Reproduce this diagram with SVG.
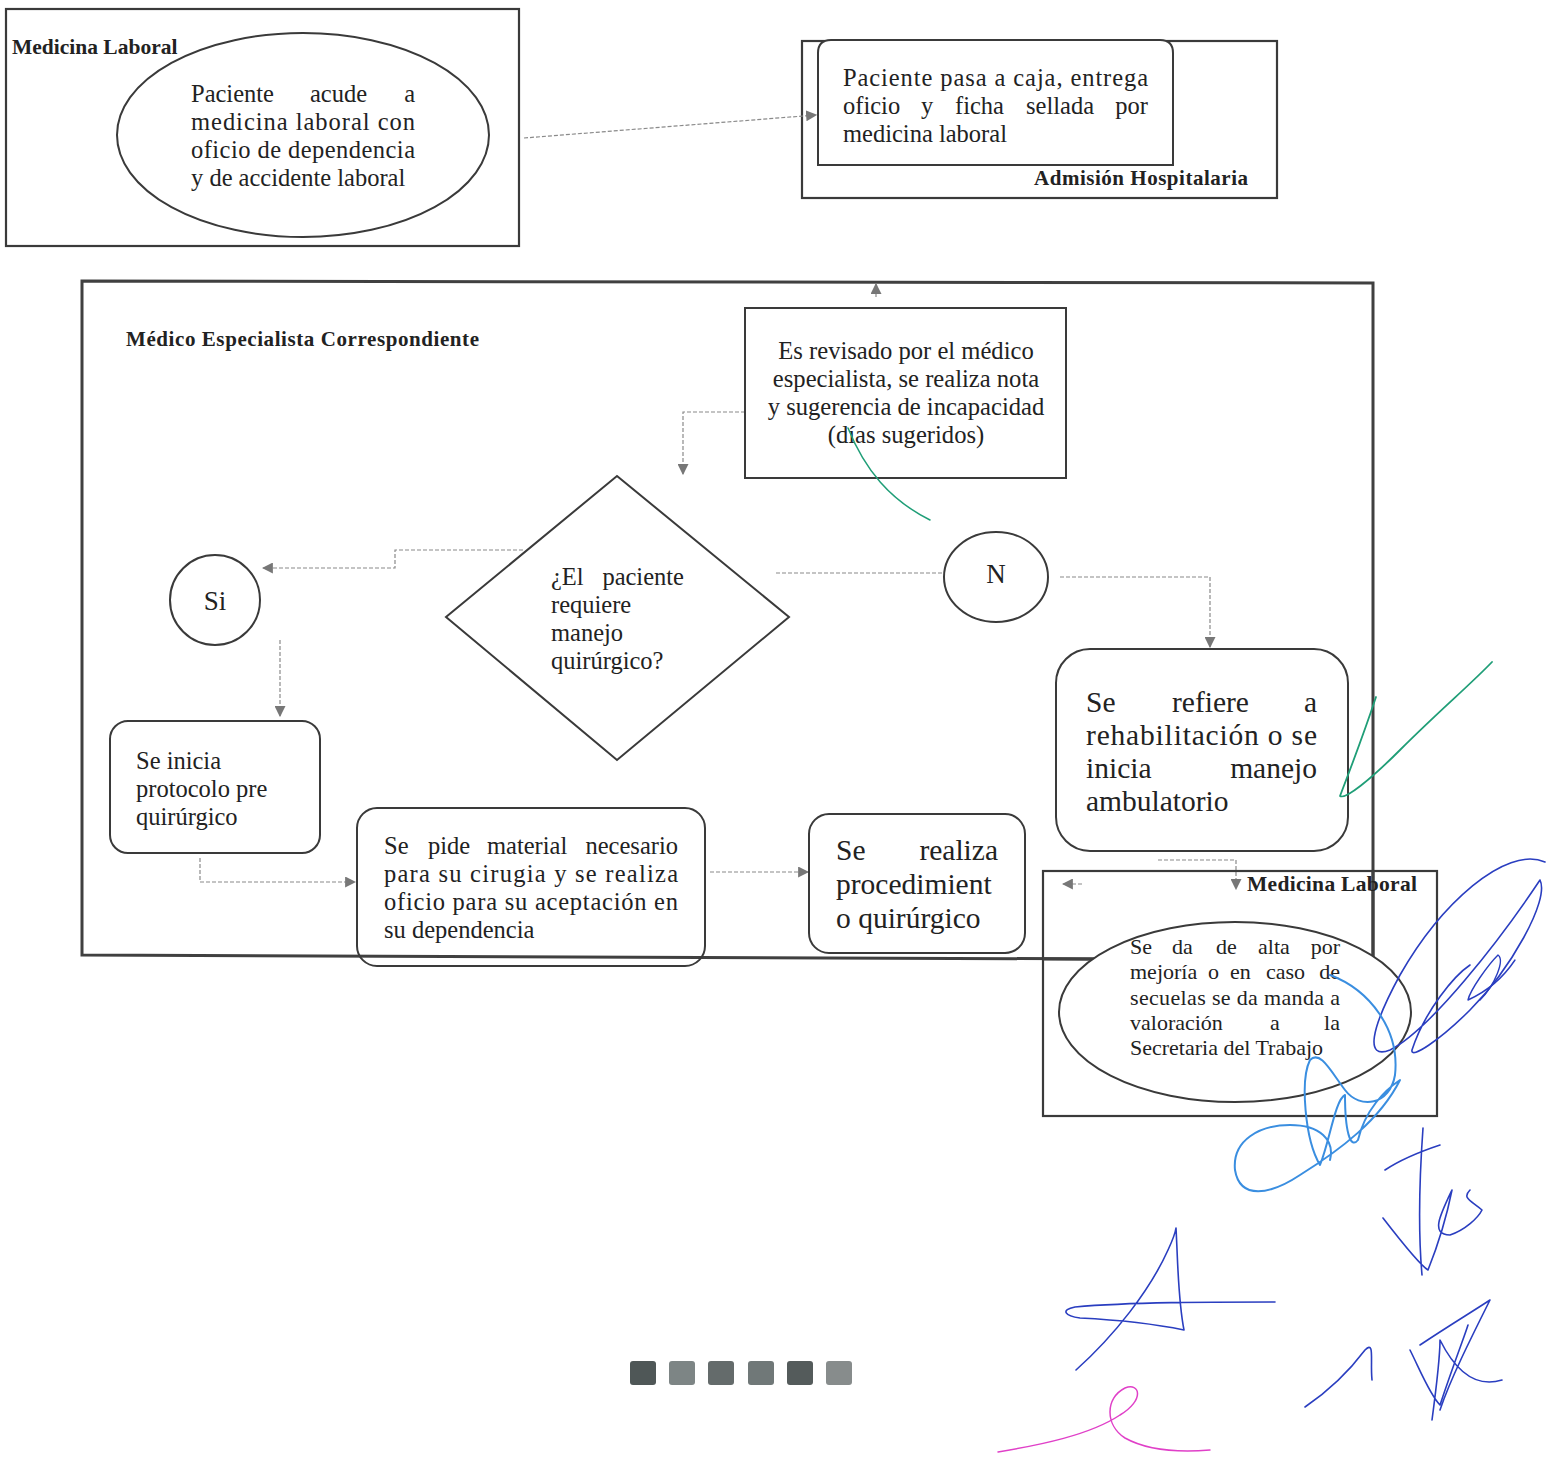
<svg xmlns="http://www.w3.org/2000/svg" width="1549" height="1465" viewBox="0 0 1549 1465">
<style>
text{font-family:"Liberation Serif","Times New Roman",serif;fill:#222}
.b{font-weight:bold}
.box{fill:none;stroke:#3a3a3a;stroke-width:2.2}
.nd{fill:#fff;stroke:#3a3a3a;stroke-width:2}
.con{fill:none;stroke:#8a8a8a;stroke-width:1.2;stroke-dasharray:4 2}
.sig{fill:none;stroke-linecap:round;stroke-linejoin:round}
</style>
<defs>
<marker id="ah" viewBox="0 0 10 10" refX="9" refY="5" markerWidth="11" markerHeight="11" markerUnits="userSpaceOnUse" orient="auto">
<path d="M0,0 L10,5 L0,10 Z" fill="#777"/>
</marker>
</defs>
<rect width="1549" height="1465" fill="#fff"/>

<!-- swimlane containers -->
<g id="lane-medicina-laboral-1">
<rect class="box" x="6" y="9" width="513" height="237"/>
<text class="b" x="12" y="54" font-size="21.5">Medicina Laboral</text>
</g>
<g id="lane-admision">
<rect class="box" x="802" y="41" width="475" height="157"/>
<text class="b" x="1034" y="185" font-size="21" textLength="214" lengthAdjust="spacing">Admisión Hospitalaria</text>
</g>
<g id="lane-especialista">
<polygon points="82,281 1373,283 1373,960 82,955" fill="none" stroke="#404040" stroke-width="3"/>
<text class="b" x="126" y="346" font-size="21" textLength="353" lengthAdjust="spacing">Médico Especialista Correspondiente</text>
</g>

<!-- connectors -->
<g id="connectors">
<path class="con" d="M524,138 L816,115" marker-end="url(#ah)"/>
<path class="con" d="M876,297 L876,284" marker-end="url(#ah)"/>
<path class="con" d="M745,412 L683,412 L683,474" marker-end="url(#ah)"/>
<path class="con" d="M523,550 L395,550 L395,568 L263,568" marker-end="url(#ah)"/>
<path class="con" d="M280,640 L280,716" marker-end="url(#ah)"/>
<path class="con" d="M200,858 L200,882 L355,882" marker-end="url(#ah)"/>
<path class="con" d="M710,872 L808,872" marker-end="url(#ah)"/>
<path class="con" d="M776,573 L976,573" marker-end="url(#ah)"/>
<path class="con" d="M1060,577 L1210,577 L1210,647" marker-end="url(#ah)"/>
<path class="con" d="M1158,860 L1236,860 L1236,889" marker-end="url(#ah)"/>
<path class="con" d="M1082,884 L1063,884" marker-end="url(#ah)"/>
</g>

<g id="n-paciente-acude">
<ellipse class="nd" cx="303" cy="135" rx="186" ry="102"/>
<text y="102" font-size="24.5"><tspan x="191">Paciente</tspan><tspan x="310">acude</tspan><tspan x="415" text-anchor="end">a</tspan></text>
<text x="191" y="130" font-size="24.5" textLength="224" lengthAdjust="spacing">medicina laboral con</text>
<text x="191" y="158" font-size="24.5" textLength="224" lengthAdjust="spacing">oficio de dependencia</text>
<text x="191" y="186" font-size="24.5">y de accidente laboral</text>
</g>

<g id="n-caja">
<path class="nd" d="M818,165 L818,53 Q818,40 831,40 L1160,40 Q1173,40 1173,53 L1173,165 Z"/>
<text x="843" y="86" font-size="24.5" textLength="305" lengthAdjust="spacing">Paciente pasa a caja, entrega</text>
<text y="114" font-size="24.5"><tspan x="843">oficio</tspan><tspan x="921">y</tspan><tspan x="955">ficha</tspan><tspan x="1026">sellada</tspan><tspan x="1148" text-anchor="end">por</tspan></text>
<text x="843" y="142" font-size="24.5">medicina laboral</text>
</g>

<g id="n-revisado">
<rect class="nd" x="745" y="308" width="321" height="170"/>
<text x="906" y="359" font-size="24.6" text-anchor="middle">Es revisado por el médico</text>
<text x="906" y="387" font-size="24.6" text-anchor="middle">especialista, se realiza nota</text>
<text x="906" y="415" font-size="24.6" text-anchor="middle">y sugerencia de incapacidad</text>
<text x="906" y="443" font-size="24.6" text-anchor="middle">(días sugeridos)</text>
</g>

<g id="n-decision">
<polygon class="nd" points="617,476 789,617 617,760 446,617"/>
<text y="585" font-size="24.5"><tspan x="551">¿El</tspan><tspan x="684" text-anchor="end">paciente</tspan></text>
<text x="551" y="613" font-size="24.5">requiere</text>
<text x="551" y="641" font-size="24.5">manejo</text>
<text x="551" y="669" font-size="24.5">quirúrgico?</text>
</g>

<g id="n-si">
<circle class="nd" cx="215" cy="600" r="45"/>
<text x="215" y="610" font-size="27" text-anchor="middle">Si</text>
</g>

<g id="n-no">
<ellipse class="nd" cx="996" cy="577" rx="52" ry="45"/>
<text x="996" y="583" font-size="27" text-anchor="middle">N</text>
</g>

<g id="n-protocolo">
<rect class="nd" x="110" y="721" width="210" height="132" rx="18"/>
<text x="136" y="769" font-size="24.5">Se inicia</text>
<text x="136" y="797" font-size="24.5">protocolo pre</text>
<text x="136" y="825" font-size="24.5">quirúrgico</text>
</g>

<g id="n-material">
<rect class="nd" x="357" y="808" width="348" height="158" rx="20" style="fill:none"/>
<text y="854" font-size="24.5"><tspan x="384">Se</tspan><tspan x="428">pide</tspan><tspan x="487">material</tspan><tspan x="678" text-anchor="end">necesario</tspan></text>
<text x="384" y="882" font-size="24.5" textLength="294" lengthAdjust="spacing">para su cirugia y se realiza</text>
<text x="384" y="910" font-size="24.5" textLength="294" lengthAdjust="spacing">oficio para su aceptación en</text>
<text x="384" y="938" font-size="24.5">su dependencia</text>
</g>

<g id="n-procedimiento">
<rect class="nd" x="809" y="814" width="216" height="139" rx="20"/>
<text y="860" font-size="29.5"><tspan x="836">Se</tspan><tspan x="998" text-anchor="end">realiza</tspan></text>
<text x="836" y="894" font-size="29.5">procedimient</text>
<text x="836" y="928" font-size="29.5">o quirúrgico</text>
</g>

<g id="n-rehabilitacion">
<rect class="nd" x="1056" y="649" width="292" height="202" rx="34"/>
<text y="712" font-size="29.5"><tspan x="1086">Se</tspan><tspan x="1172">refiere</tspan><tspan x="1317" text-anchor="end">a</tspan></text>
<text x="1086" y="745" font-size="29.5" textLength="231" lengthAdjust="spacing">rehabilitación o se</text>
<text y="778" font-size="29.5"><tspan x="1086">inicia</tspan><tspan x="1317" text-anchor="end">manejo</tspan></text>
<text x="1086" y="811" font-size="29.5">ambulatorio</text>
</g>

<g id="lane-medicina-laboral-2">
<rect class="box" x="1043" y="871" width="394" height="245"/>
<line x1="1373" y1="871" x2="1373" y2="960" stroke="#404040" stroke-width="3"/>
<line x1="1043" y1="959" x2="1373" y2="960" stroke="#404040" stroke-width="3"/>
<text class="b" x="1247" y="891" font-size="21.5" textLength="170" lengthAdjust="spacing">Medicina Laboral</text>
</g>

<g id="n-alta">
<ellipse class="nd" cx="1235" cy="1012" rx="176" ry="90"/>
<text y="954" font-size="22"><tspan x="1130">Se</tspan><tspan x="1172">da</tspan><tspan x="1216">de</tspan><tspan x="1258">alta</tspan><tspan x="1340" text-anchor="end">por</tspan></text>
<text y="979" font-size="22"><tspan x="1130">mejoría</tspan><tspan x="1208">o</tspan><tspan x="1230">en</tspan><tspan x="1266">caso</tspan><tspan x="1340" text-anchor="end">de</tspan></text>
<text x="1130" y="1005" font-size="22" textLength="210" lengthAdjust="spacing">secuelas se da manda a</text>
<text y="1030" font-size="22"><tspan x="1130">valoración</tspan><tspan x="1270">a</tspan><tspan x="1340" text-anchor="end">la</tspan></text>
<text x="1130" y="1055" font-size="22">Secretaria del Trabajo</text>
</g>

<g id="page-marks">
<rect x="630" y="1361" width="26" height="24" rx="3" fill="#4f5757"/>
<rect x="669" y="1361" width="26" height="24" rx="3" fill="#7d8585"/>
<rect x="708" y="1361" width="26" height="24" rx="3" fill="#646b6b"/>
<rect x="748" y="1361" width="26" height="24" rx="3" fill="#707878"/>
<rect x="787" y="1361" width="26" height="24" rx="3" fill="#545b5b"/>
<rect x="826" y="1361" width="26" height="24" rx="3" fill="#878c8c"/>
</g>

<g id="signatures">
<path class="sig" stroke="#1f9e77" stroke-width="1.5" d="M848,428 C865,470 890,500 930,520"/>
<path class="sig" stroke="#1f9e77" stroke-width="1.8" d="M1376,697 C1365,730 1350,770 1340,796 C1345,800 1370,780 1400,750 C1440,710 1470,685 1492,662"/>
<path class="sig" stroke="#2a3ec0" stroke-width="1.6" d="M1545,862 C1505,845 1440,905 1400,975 C1370,1030 1365,1060 1390,1050 C1430,1030 1500,940 1540,880 C1550,900 1510,970 1470,1010 C1440,1040 1410,1060 1412,1050 C1425,1010 1455,975 1470,965"/>
<path class="sig" stroke="#2a3ec0" stroke-width="1.4" d="M1480,1000 C1495,985 1505,960 1498,955 C1488,965 1470,990 1468,1000 C1490,990 1505,975 1515,960"/>
<path class="sig" stroke="#3a8ee0" stroke-width="2" d="M1330,975 C1370,990 1400,1030 1395,1075 C1390,1105 1360,1110 1345,1090 C1330,1070 1320,1050 1310,1060 C1300,1080 1305,1140 1320,1165 C1330,1140 1335,1100 1345,1095 C1345,1130 1350,1150 1358,1140 C1365,1110 1385,1090 1400,1080 C1380,1120 1340,1150 1300,1175 C1270,1195 1240,1200 1235,1170 C1232,1140 1260,1125 1290,1125 C1320,1125 1335,1140 1330,1160"/>
<path class="sig" stroke="#2a3ec0" stroke-width="1.6" d="M1423,1128 C1420,1170 1418,1230 1422,1275 M1385,1170 C1400,1160 1425,1150 1440,1145 M1383,1218 C1400,1240 1420,1265 1428,1270 C1440,1240 1448,1210 1452,1190 C1440,1215 1430,1235 1450,1235 C1465,1230 1478,1218 1482,1210 C1470,1200 1462,1198 1470,1190"/>
<path class="sig" stroke="#2a3ec0" stroke-width="1.6" d="M1076,1370 C1115,1335 1150,1290 1168,1250 C1175,1235 1176,1228 1176,1228 C1178,1265 1178,1300 1184,1330 C1160,1325 1120,1320 1080,1318 C1065,1316 1060,1310 1075,1307 C1130,1302 1210,1302 1275,1302"/>
<path class="sig" stroke="#2a3ec0" stroke-width="1.6" d="M1305,1407 C1330,1390 1350,1370 1365,1350 C1375,1340 1370,1360 1372,1380 M1432,1420 C1436,1390 1440,1360 1440,1340 C1450,1360 1470,1390 1502,1380 M1420,1345 C1450,1325 1475,1310 1490,1300 C1470,1340 1450,1380 1440,1410 M1410,1350 C1420,1370 1430,1395 1440,1405 C1455,1360 1465,1335 1468,1325"/>
<path class="sig" stroke="#e040c8" stroke-width="1.5" d="M998,1452 C1040,1445 1090,1435 1120,1415 C1145,1400 1140,1382 1125,1388 C1105,1398 1105,1425 1125,1438 C1150,1452 1185,1452 1210,1450"/>
</g>
</svg>
